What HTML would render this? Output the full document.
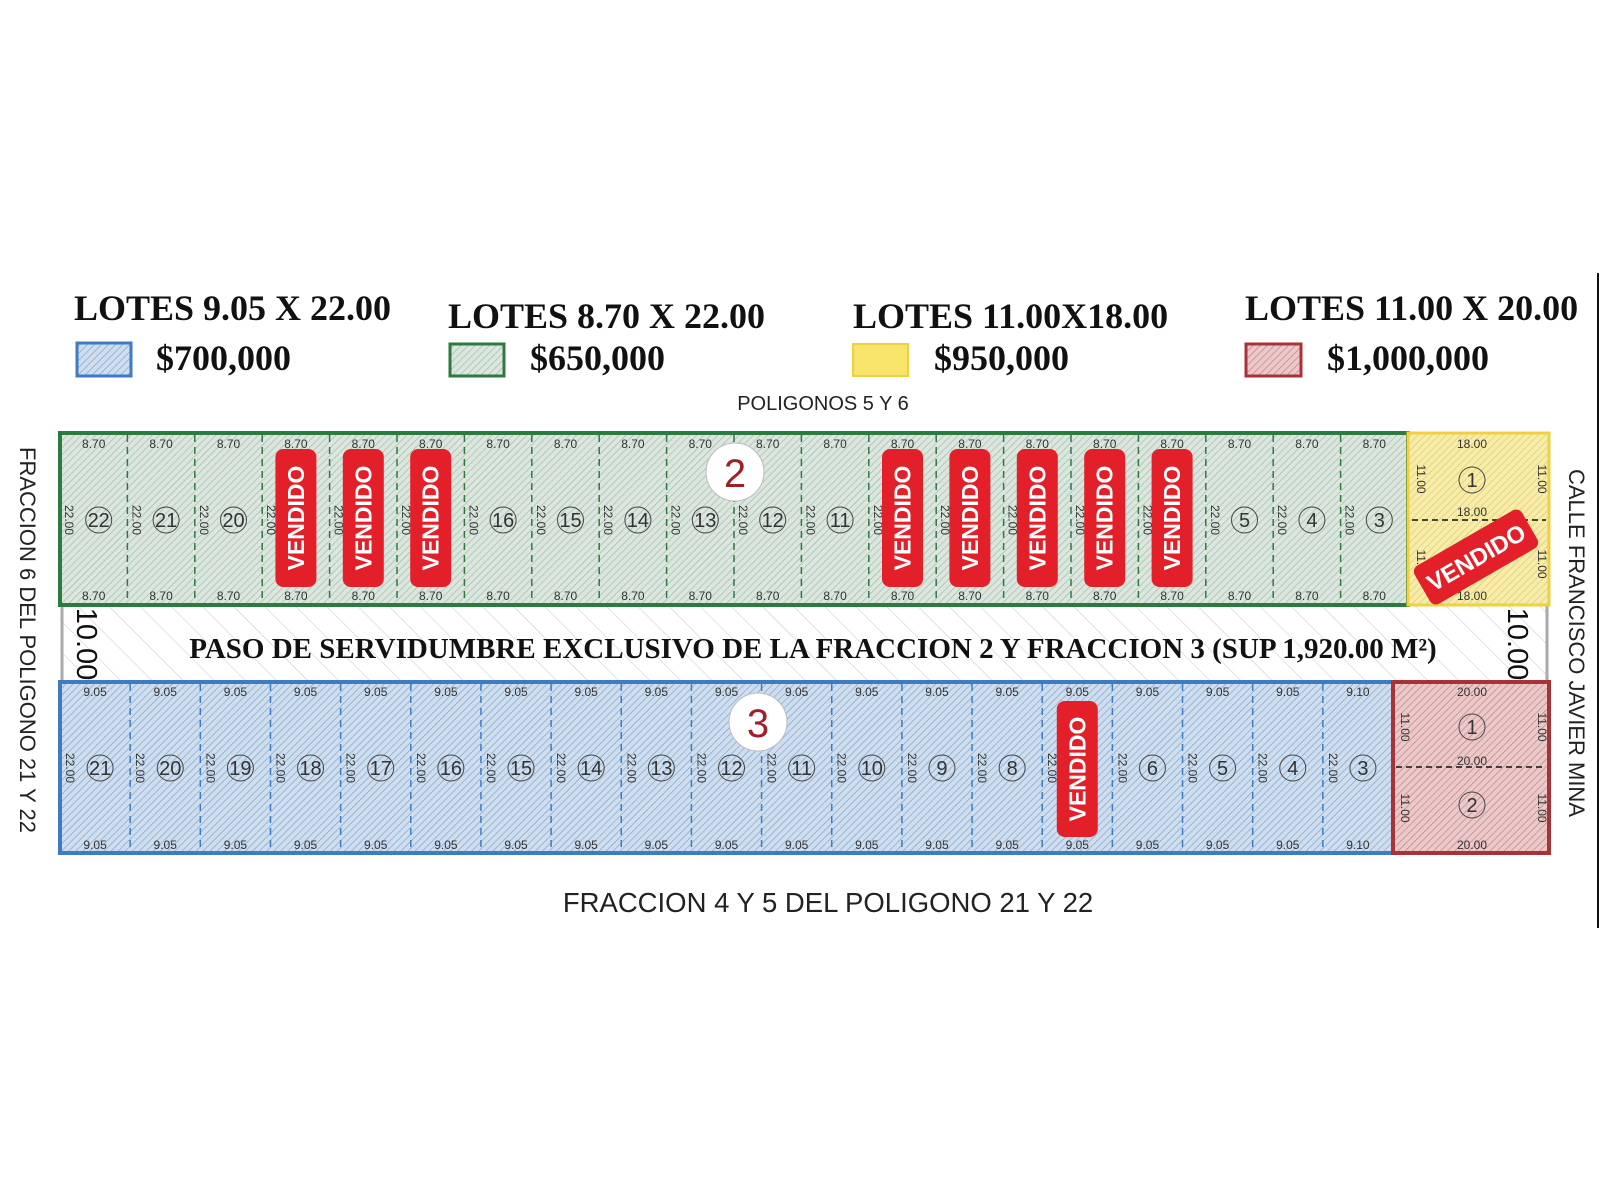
<!DOCTYPE html>
<html><head><meta charset="utf-8"><style>
html,body{margin:0;padding:0;background:#fff;width:1600px;height:1200px;overflow:hidden}
svg{display:block}
</style></head><body>
<svg id="s" width="1600" height="1200" xmlns="http://www.w3.org/2000/svg">
<defs>
<pattern id="hg" width="5" height="5" patternUnits="userSpaceOnUse" patternTransform="rotate(45)"><rect width="5" height="5" fill="#dbe7de"/><line x1="0" y1="0" x2="0" y2="5" stroke="#9fb8a6" stroke-width="1.3"/></pattern>
<pattern id="hb" width="5" height="5" patternUnits="userSpaceOnUse" patternTransform="rotate(45)"><rect width="5" height="5" fill="#cfdeef"/><line x1="0" y1="0" x2="0" y2="5" stroke="#7f9fc4" stroke-width="1.3"/></pattern>
<pattern id="hy" width="5" height="5" patternUnits="userSpaceOnUse" patternTransform="rotate(45)"><rect width="5" height="5" fill="#f8eda8"/><line x1="0" y1="0" x2="0" y2="5" stroke="#d8c772" stroke-width="1.3"/></pattern>
<pattern id="hr" width="5" height="5" patternUnits="userSpaceOnUse" patternTransform="rotate(45)"><rect width="5" height="5" fill="#ecc9c9"/><line x1="0" y1="0" x2="0" y2="5" stroke="#b98080" stroke-width="1.3"/></pattern>
<pattern id="hw" width="22" height="22" patternUnits="userSpaceOnUse" patternTransform="rotate(-45)"><rect width="22" height="22" fill="#fff"/><line x1="0" y1="0" x2="0" y2="22" stroke="#c8c8c8" stroke-width="1"/></pattern>
</defs>
<g font-family="Liberation Serif, serif" font-weight="bold" font-size="36" fill="#111">
<text x="74" y="320">LOTES 9.05 X 22.00</text>
<text x="448" y="328">LOTES 8.70 X 22.00</text>
<text x="853" y="328">LOTES 11.00X18.00</text>
<text x="1245" y="320">LOTES 11.00 X 20.00</text>
<text x="156" y="370">$700,000</text>
<text x="530" y="370">$650,000</text>
<text x="934" y="370">$950,000</text>
<text x="1327" y="370">$1,000,000</text>
</g>
<rect x="77" y="343" width="54" height="33" fill="url(#hb)" stroke="#3d7cc4" stroke-width="3"/>
<rect x="450" y="344" width="54" height="32" fill="url(#hg)" stroke="#2d7a40" stroke-width="3"/>
<rect x="853" y="344" width="55" height="32" fill="#f8e46a" stroke="#f0d040" stroke-width="2"/>
<rect x="1246" y="344" width="55" height="32" fill="url(#hr)" stroke="#a83238" stroke-width="3"/>
<text x="823" y="410" text-anchor="middle" font-family="Liberation Sans, sans-serif" font-size="20" fill="#222">POLIGONOS 5 Y 6</text>
<text x="828" y="912" text-anchor="middle" font-family="Liberation Sans, sans-serif" font-size="27.5" fill="#222">FRACCION 4 Y  5 DEL POLIGONO 21 Y 22</text>
<text transform="translate(20,640) rotate(90)" text-anchor="middle" font-family="Liberation Sans, sans-serif" font-size="22" fill="#222">FRACCION 6 DEL POLIGONO 21 Y 22</text>
<text transform="translate(1569,643) rotate(90)" text-anchor="middle" font-family="Liberation Sans, sans-serif" font-size="22" fill="#222">CALLE FRANCISCO JAVIER MINA</text>
<line x1="1598" y1="273" x2="1598" y2="928" stroke="#111" stroke-width="2"/>
<rect x="60" y="605" width="1489" height="77" fill="url(#hw)"/>
<line x1="62" y1="605" x2="62" y2="682" stroke="#aaa" stroke-width="3"/>
<line x1="1547" y1="605" x2="1547" y2="682" stroke="#aaa" stroke-width="3"/>
<text x="813" y="658" text-anchor="middle" font-family="Liberation Serif, serif" font-weight="bold" font-size="29" fill="#111">PASO DE SERVIDUMBRE EXCLUSIVO DE LA FRACCION 2 Y FRACCION 3  (SUP 1,920.00 M²)</text>
<text transform="translate(77,644) rotate(90)" text-anchor="middle" font-family="Liberation Sans, sans-serif" font-size="29" fill="#111">10.00</text>
<text transform="translate(1508,644) rotate(90)" text-anchor="middle" font-family="Liberation Sans, sans-serif" font-size="29" fill="#111">10.00</text>
<g id="lots"></g>
</svg>
<script>
var g=document.getElementById('lots'),h='';
function T(x,y,s,t,extra){return '<text x="'+x+'" y="'+y+'" font-family="Liberation Sans, sans-serif" font-size="'+s+'" text-anchor="middle" '+(extra||'')+'>'+t+'</text>';}
function R(x,y,s,t){return '<text transform="translate('+x+','+y+') rotate(90)" font-family="Liberation Sans, sans-serif" font-size="'+s+'" text-anchor="middle" fill="#333">'+t+'</text>';}
function V(cx,cy,w,hh){return '<rect x="'+(cx-w/2)+'" y="'+(cy-hh/2)+'" width="'+w+'" height="'+hh+'" rx="8" fill="#e3202a"/>'+'<text transform="translate('+(cx+8)+','+cy+') rotate(-90)" font-family="Liberation Sans, sans-serif" font-weight="bold" font-size="23" fill="#fff" text-anchor="middle">VENDIDO</text>';}
function C(cx,cy,n){return '<circle cx="'+cx+'" cy="'+cy+'" r="13" fill="none" stroke="#444" stroke-width="1"/>'+T(cx,cy+7,20,n,'fill="#333"');}
h+='<rect x="60" y="433" width="1348" height="172" fill="url(#hg)"/>';
var gn=[22,21,20,19,18,17,16,15,14,13,12,11,10,9,8,7,6,5,4,3],gv=[3,4,5,12,13,14,15,16],w=1348/20;
for(var i=0;i<20;i++){var x=60+i*w,c=x+w/2;
 if(i>0)h+='<line x1="'+x+'" y1="435" x2="'+x+'" y2="603" stroke="#2d7a40" stroke-width="1.5" stroke-dasharray="7,5"/>';
 h+=T(c,448,12,'8.70','fill="#333"')+T(c,600,12,'8.70','fill="#333"')+R(x+5,520,12,'22.00');
 if(gv.indexOf(i)>=0)h+=V(c,518,41,138);else h+=C(c+5,520,gn[i]);}
h+='<rect x="60" y="433" width="1348" height="172" fill="none" stroke="#2d7a40" stroke-width="4"/>';
h+='<rect x="1408" y="433" width="141" height="172" fill="url(#hy)" stroke="#f0d040" stroke-width="3"/>';
h+='<line x1="1412" y1="520" x2="1546" y2="520" stroke="#111" stroke-width="1.5" stroke-dasharray="6,4"/>';
h+=T(1472,448,12,'18.00','fill="#333"')+T(1472,516,12,'18.00','fill="#333"')+T(1472,600,12,'18.00','fill="#333"')+R(1417,479,12,'11.00')+R(1538,479,12,'11.00')+R(1417,564,12,'11.00')+R(1538,564,12,'11.00')+C(1472,480,1);
h+='<g transform="translate(1476,557) rotate(-30)"><rect x="-62" y="-22" width="124" height="44" rx="7" fill="#e3202a"/>'+T(0,9,24,'VENDIDO','fill="#fff" font-weight="bold"')+'</g>';
h+='<rect x="60" y="682" width="1333" height="171" fill="url(#hb)"/>';
var bn=[21,20,19,18,17,16,15,14,13,12,11,10,9,8,7,6,5,4,3],w2=1333/19;
for(var i=0;i<19;i++){var x=60+i*w2,c=x+w2/2,d=i==18?'9.10':'9.05';
 if(i>0)h+='<line x1="'+x+'" y1="684" x2="'+x+'" y2="851" stroke="#3d7cc4" stroke-width="1.5" stroke-dasharray="7,5"/>';
 h+=T(c,696,12,d,'fill="#333"')+T(c,849,12,d,'fill="#333"')+R(x+6,768,12,'22.00');
 if(i==14)h+=V(c,769,41,136);else h+=C(c+5,768,bn[i]);}
h+='<rect x="60" y="682" width="1333" height="171" fill="none" stroke="#3d7cc4" stroke-width="4"/>';
h+='<rect x="1393" y="682" width="156" height="171" fill="url(#hr)" stroke="#a83238" stroke-width="4"/>';
h+='<line x1="1396" y1="767" x2="1546" y2="767" stroke="#111" stroke-width="1.5" stroke-dasharray="6,4"/>';
h+=T(1472,696,12,'20.00','fill="#333"')+T(1472,765,12,'20.00','fill="#333"')+T(1472,849,12,'20.00','fill="#333"')+R(1401,727,12,'11.00')+R(1538,727,12,'11.00')+R(1401,808,12,'11.00')+R(1538,808,12,'11.00')+C(1472,727,1)+C(1472,805,2);
h+='<circle cx="735" cy="472" r="29" fill="#fff" stroke="#bbb"/>'+T(735,487,40,'2','fill="#a0202a"');
h+='<circle cx="758" cy="722" r="29" fill="#fff" stroke="#bbb"/>'+T(758,737,40,'3','fill="#a0202a"');
g.innerHTML=h;
</script>
</body></html>
